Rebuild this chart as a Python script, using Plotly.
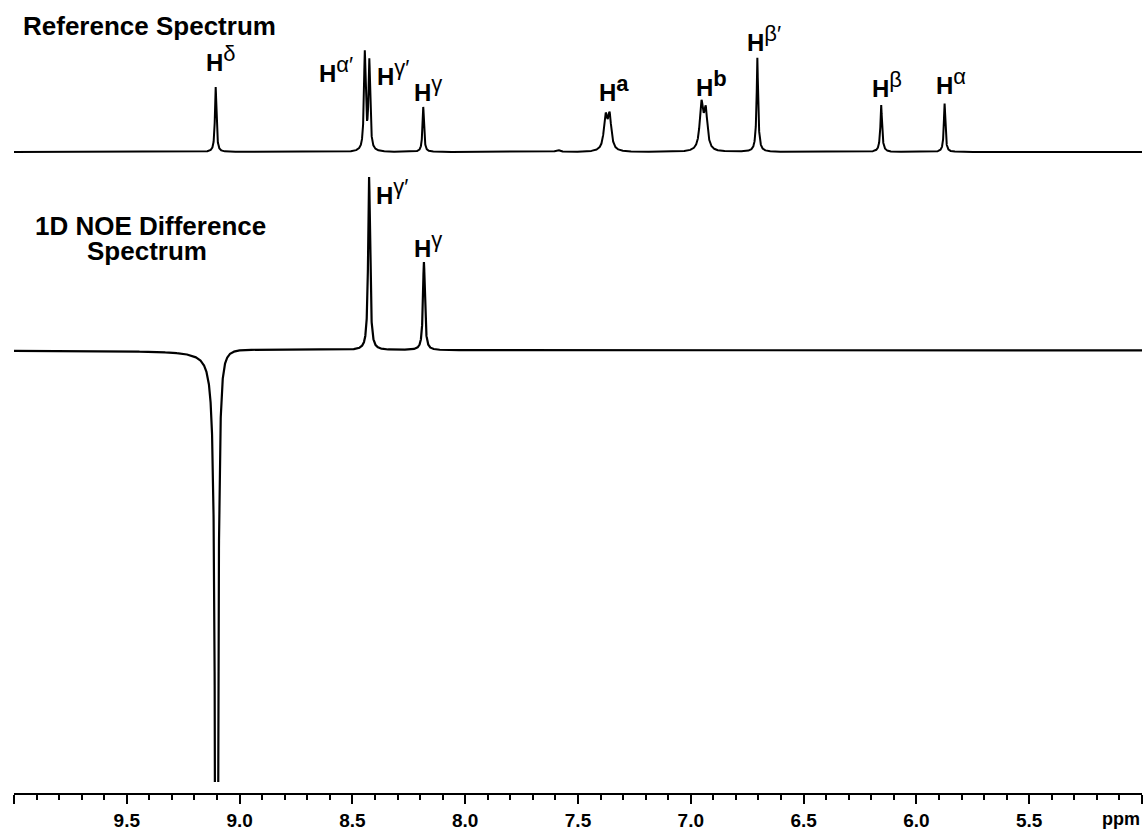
import numpy as np
import plotly.graph_objects as go

# ---------------------------------------------------------------------------
# Reference 1H spectrum: line centres (ppm), peak intensities, half-widths (ppm)
# ---------------------------------------------------------------------------
ref_ppm = [9.106, 8.445, 8.425, 8.186, 7.590, 7.378, 7.360,
           6.953, 6.934, 6.705, 6.705, 6.156, 6.156, 5.875]
ref_intensity = [65, 97.5, 89, 45, 2, 32.5, 33.5,
                 45, 38, 48, 46, 20, 27, 48.5]
ref_hwhm = [0.004, 0.0045, 0.0045, 0.004, 0.01, 0.009, 0.009,
            0.009, 0.009, 0.0025, 0.006, 0.0025, 0.006, 0.004]

# 1D NOE difference spectrum (H-delta irradiated): centres, intensities,
# half-widths and dispersive (phase) component
noe_ppm = [9.102, 8.426, 8.183]
noe_intensity = [-1200, 173, 88]
noe_hwhm = [0.005, 0.005, 0.005]
noe_dispersion = [60, 0, 0]

# Peak assignments
ref_labels = ["δ", "α′", "γ′", "γ", "a", "b", "β′", "β", "α"]
noe_labels = ["γ′", "γ"]

# Chemical-shift axis
x_range = [10.0, 5.0]
tick_vals = [10.0, 9.5, 9.0, 8.5, 8.0, 7.5, 7.0, 6.5, 6.0, 5.5, 5.0]
tick_text = ["", "9.5", "9.0", "8.5", "8.0", "7.5", "7.0", "6.5", "6.0", "5.5", ""]

# ---------------------------------------------------------------------------
# Label placement (ppm of label's left edge, intensity of label's bottom)
# ---------------------------------------------------------------------------
ref_label_pos = [(9.158, 74), (8.658, 63), (8.401, 60), (8.237, 44), (7.417, 44),
                 (6.987, 49), (6.761, 94), (6.207, 48), (5.924, 51)]
noe_label_pos = [(8.405, 139.5), (8.237, 86.5)]

FONT = "Liberation Sans, Arial, Helvetica, sans-serif"
PLOT_H = 793          # plot-area height in px (paper height minus bottom margin)
NOE_CLIP = 11         # px the NOE panel stops short of the axis line


def lineshape(grid, centres, heights, widths, dispersion=None):
    """Sum of Lorentzian lines (absorption + optional dispersion part)."""
    y = np.zeros_like(grid)
    for i, (c, h, w) in enumerate(zip(centres, heights, widths)):
        u = (c - grid) / w
        y += h / (1.0 + u * u)
        if dispersion is not None:
            y += dispersion[i] * u / (1.0 + u * u)
    return y


ppm = np.linspace(x_range[0], x_range[1], 20001)
ref_spec = lineshape(ppm, ref_ppm, ref_intensity, ref_hwhm)
noe_spec = lineshape(ppm, noe_ppm, noe_intensity, noe_hwhm, noe_dispersion)

fig = go.Figure()
fig.add_trace(go.Scatter(x=ppm, y=ref_spec, mode="lines", xaxis="x", yaxis="y",
                         line=dict(color="black", width=2), hoverinfo="skip"))
fig.add_trace(go.Scatter(x=ppm, y=noe_spec, mode="lines", xaxis="x", yaxis="y2",
                         line=dict(color="black", width=2.2), hoverinfo="skip"))


def peak_label(sup, bold_sup=False):
    s = f"<b>{sup}</b>" if bold_sup else sup
    return f"<b>H</b><sup><span style='font-size:22px'>{s}</span></sup>"


annotations = []
for lab, (x, y) in zip(ref_labels, ref_label_pos):
    annotations.append(dict(x=x, y=y, xref="x", yref="y", xanchor="left", yanchor="bottom",
                            text=peak_label(lab, lab in ("a", "b")), showarrow=False,
                            font=dict(family=FONT, size=24, color="black")))
for lab, (x, y) in zip(noe_labels, noe_label_pos):
    annotations.append(dict(x=x, y=y, xref="x", yref="y2", xanchor="left", yanchor="bottom",
                            text=peak_label(lab), showarrow=False,
                            font=dict(family=FONT, size=24, color="black")))


def py(px):
    """pixel row -> paper fraction"""
    return (PLOT_H - px) / PLOT_H


title_font = dict(family=FONT, size=26, color="black", weight="bold")
annotations += [
    dict(x=0.006, y=py(26), xref="paper", yref="paper", xanchor="left", yanchor="middle",
         text="Reference Spectrum", showarrow=False, font=title_font),
    dict(x=0.1206, y=py(226.5), xref="paper", yref="paper", xanchor="center", yanchor="middle",
         text="1D NOE Difference", showarrow=False, font=title_font),
    dict(x=0.1183, y=py(250.5), xref="paper", yref="paper", xanchor="center", yanchor="middle",
         text="Spectrum", showarrow=False, font=title_font),
    dict(x=1.0, y=py(819), xref="paper", yref="paper", xanchor="right", yanchor="middle",
         text="ppm", showarrow=False,
         font=dict(family=FONT, size=18, color="black", weight="bold")),
]

fig.update_layout(
    width=1146, height=834,
    margin=dict(l=14, r=4, t=0, b=41),
    paper_bgcolor="white", plot_bgcolor="rgba(0,0,0,0)",
    showlegend=False,
    annotations=annotations,
    xaxis=dict(range=x_range, anchor="y", showline=True, linecolor="black", linewidth=2,
               ticks="outside", ticklen=9, tickwidth=2, tickcolor="black",
               tickmode="array", tickvals=tick_vals, ticktext=tick_text,
               tickfont=dict(family=FONT, size=19, color="black", weight="bold"),
               showgrid=False, zeroline=False,
               minor=dict(ticks="outside", ticklen=5, tickwidth=1.5, tickcolor="black",
                          dtick=0.1, tick0=0, showgrid=False)),
    yaxis=dict(domain=[0, 1], range=[-(PLOT_H - 152), 152], visible=False,
               showgrid=False, zeroline=False),
    yaxis2=dict(domain=[NOE_CLIP / PLOT_H, 1], anchor="x",
                range=[-(PLOT_H - NOE_CLIP - 350.5), 350.5], visible=False,
                showgrid=False, zeroline=False),
)

fig.write_html("out.html", config={"displayModeBar": False})
